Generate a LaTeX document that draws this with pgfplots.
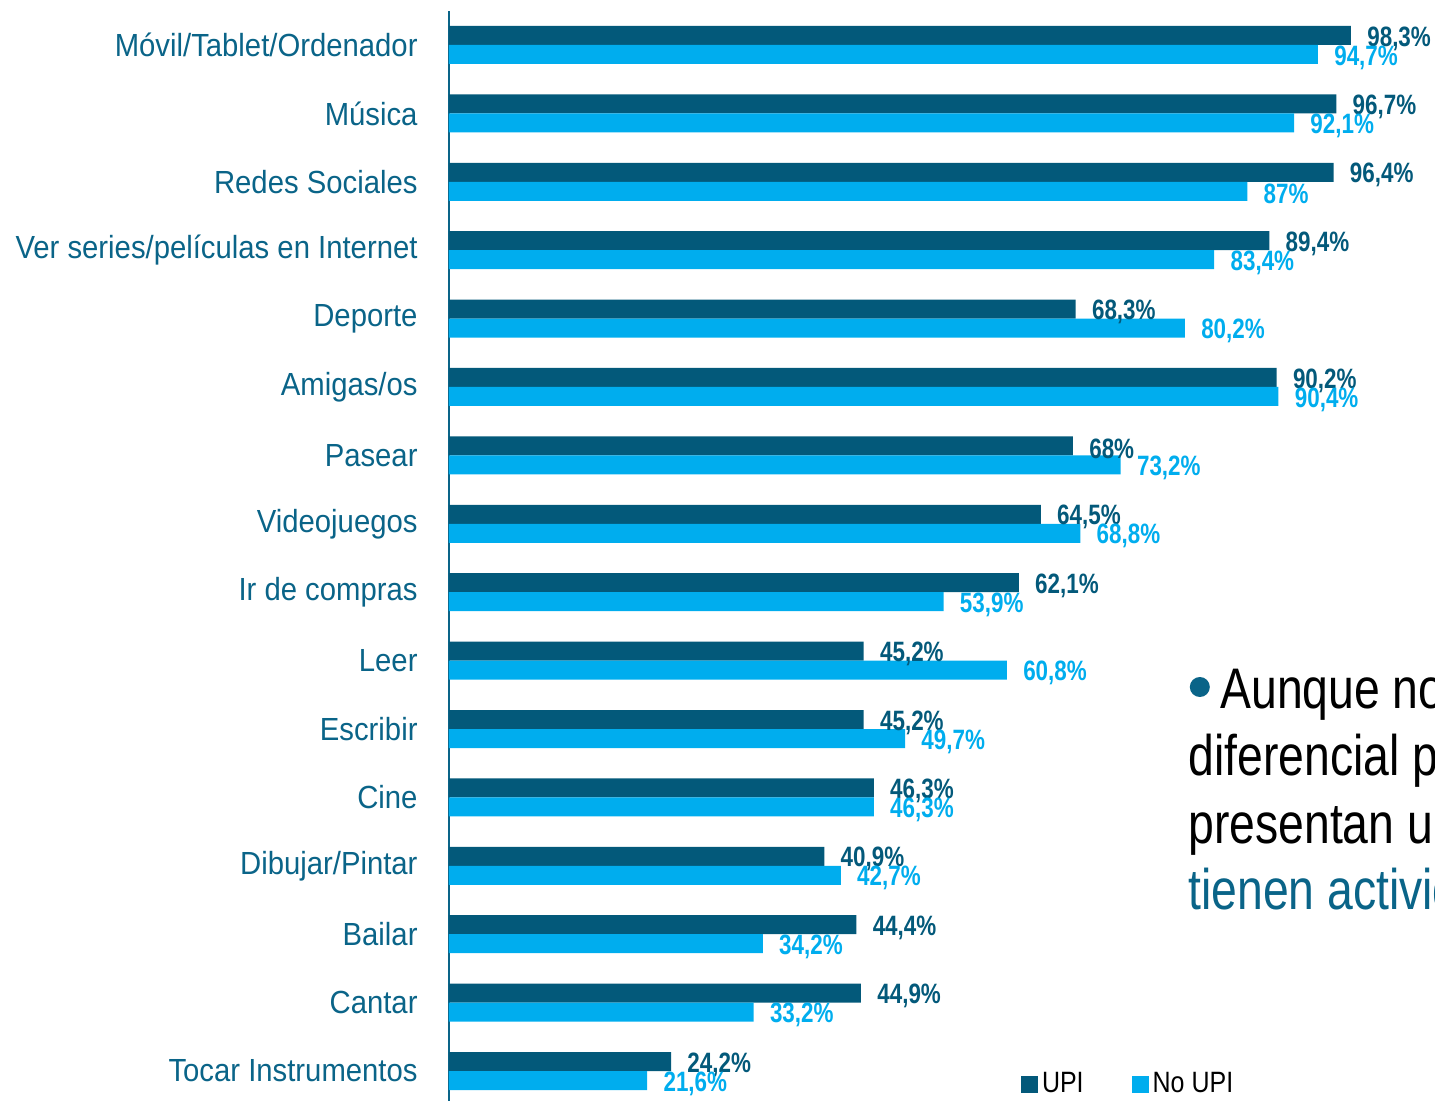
\documentclass[border=0pt]{standalone}
\usepackage{fontspec}
\setmainfont{Liberation Sans}[FakeStretch=0.88]
\newfontfamily\labfont{Liberation Sans}[FakeStretch=0.915]
\newfontfamily\valfont{Liberation Sans}[FakeStretch=0.8]
\newfontfamily\legfont{Liberation Sans}[FakeStretch=0.85]
\newfontfamily\notefont{Liberation Sans}[FakeStretch=0.81]
\usepackage{pgfplots}
\usepackage{pgfplotstable}
\pgfplotsset{compat=1.18}
\definecolor{upi}{HTML}{03597A}
\definecolor{noupi}{HTML}{00ADEE}
\definecolor{labc}{HTML}{0A6488}
\pgfplotstableread{
idx upi noupi
15 98.3 94.7
14 96.7 92.1
13 96.4 87
12 89.4 83.4
11 68.3 80.2
10 90.2 90.4
9 68 73.2
8 64.5 68.8
7 62.1 53.9
6 45.2 60.8
5 45.2 49.7
4 46.3 46.3
3 40.9 42.7
2 44.4 34.2
1 44.9 33.2
0 24.2 21.6
}\data
\begin{document}
\begin{tikzpicture}
\begin{axis}[
  name=ax,
  scale only axis,
  width=493pt, height=545.5pt,
  xmin=0, xmax=107.46,
  ymin=-0.45, ymax=15.5,
  xbar,
  bar width=9.5pt,
  clip=false,
  axis x line=none,
  axis y line*=left,
  y axis line style={draw=labc, line width=1pt, -},
  ytick={0,...,15},
  yticklabels={Tocar Instrumentos,Cantar,Bailar,Dibujar/Pintar,Cine,Escribir,Leer,Ir de compras,Videojuegos,Pasear,Amigas/os,Deporte,Ver series/películas en Internet,Redes Sociales,Música,Móvil/Tablet/Ordenador},
  major tick length=0pt,
  yticklabel style={font=\labfont\fontsize{16}{18}\selectfont, color=labc, xshift=-12.2pt},
  point meta=x,
  nodes near coords={\pgfmathprintnumber{\pgfplotspointmeta}\%},
  /pgf/number format/.cd, use comma, assume math mode=true, 1000 sep={},
  /pgfplots/.cd,
  every node near coord/.append style={font=\valfont\bfseries\fontsize{14}{16}\selectfont, anchor=west, inner sep=0pt, xshift=8pt, yshift=-1.5pt},
  legend columns=2,
  legend style={at={(axis cs:62.3,-0.19)}, anchor=west, draw=none, fill=none, font=\legfont\fontsize{14.7}{16}\selectfont, inner xsep=0pt, /tikz/every even column/.append style={column sep=22pt}},
  legend image code/.code={\fill[#1] (0pt,-4.25pt) rectangle (8.5pt,4.25pt);},
]
\addplot[fill=upi, draw=none, bar shift=4.75pt, every node near coord/.append style={color=upi}] table[x=upi, y=idx]{\data};
\addplot[fill=noupi, draw=none, bar shift=-4.75pt, every node near coord/.append style={color=noupi}] table[x=noupi, y=idx]{\data};
\legend{UPI, No UPI}
\node[circle, fill=labc, minimum size=10pt, inner sep=0pt] at (axis cs:81.83,5.614) {};
\node[anchor=base west, inner sep=0pt, font=\notefont\fontsize{28.6}{30}\selectfont] at (axis cs:84.03,5.307) {Aunque no existen};
\node[anchor=base west, inner sep=0pt, font=\notefont\fontsize{28.6}{30}\selectfont] at (axis cs:80.54,4.313) {diferencial por};
\node[anchor=base west, inner sep=0pt, font=\notefont\fontsize{28.6}{30}\selectfont] at (axis cs:80.54,3.333) {presentan una};
\node[anchor=base west, inner sep=0pt, font=\notefont\fontsize{28.6}{30}\selectfont, color=labc] at (axis cs:80.54,2.354) {tienen actividades};
\end{axis}
\pgfresetboundingbox
\path ([xshift=-224.5pt,yshift=0.4pt]ax.south west) rectangle ([yshift=5.4pt]ax.north east);
\end{tikzpicture}
\end{document}
